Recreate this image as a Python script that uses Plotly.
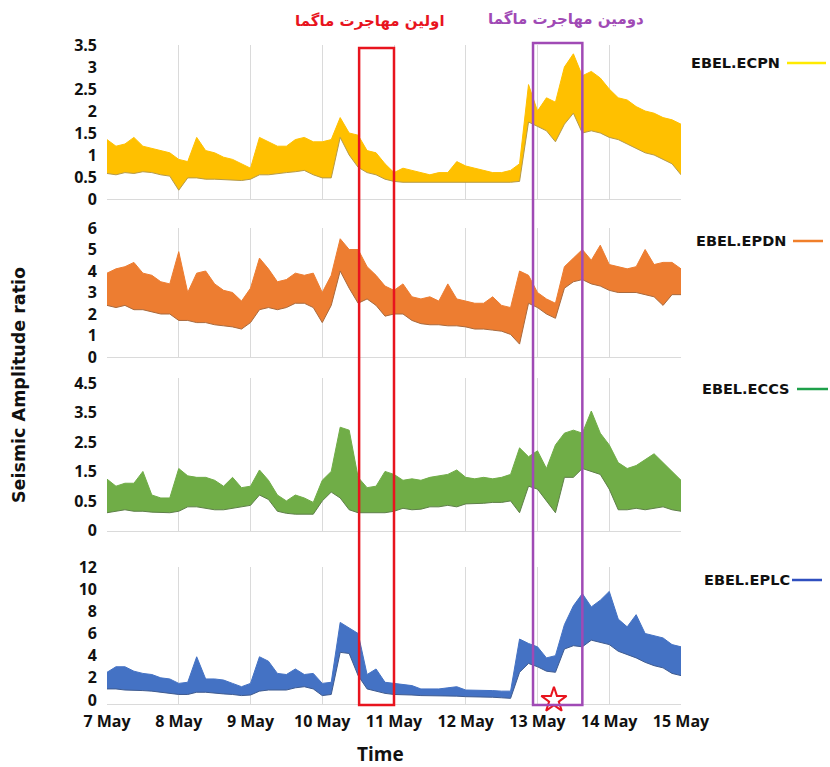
import pandas as pd
import plotly.graph_objects as go
from plotly.subplots import make_subplots

# ---- data (3-hour samples, 7 May 00:00 -> 15 May 00:00) : band lower / upper envelopes
times = pd.date_range("2023-05-07 00:00", "2023-05-15 00:00", freq="3h")

ecpn_upper = [1.35, 1.2, 1.25, 1.4, 1.2, 1.15, 1.1, 1.05, 0.9, 0.85, 1.4, 1.1, 1.05, 0.95, 0.9, 0.8,
              0.7, 1.4, 1.3, 1.2, 1.2, 1.35, 1.4, 1.3, 1.3, 1.35, 1.85, 1.5, 1.45, 1.1, 1.05, 0.8,
              0.6, 0.7, 0.65, 0.6, 0.55, 0.6, 0.6, 0.85, 0.75, 0.7, 0.65, 0.6, 0.6, 0.65, 0.8, 2.6,
              2.0, 2.3, 2.2, 3.0, 3.3, 2.8, 2.9, 2.75, 2.5, 2.3, 2.25, 2.1, 2.0, 1.95, 1.85, 1.8, 1.7]
ecpn_lower = [0.58, 0.55, 0.6, 0.58, 0.62, 0.6, 0.55, 0.52, 0.2, 0.48, 0.48, 0.45, 0.45, 0.44, 0.42, 0.42,
              0.45, 0.55, 0.55, 0.58, 0.6, 0.62, 0.65, 0.55, 0.48, 0.48, 1.4, 1.0, 0.72, 0.6, 0.55, 0.45,
              0.4, 0.38, 0.38, 0.37, 0.38, 0.38, 0.37, 0.38, 0.38, 0.38, 0.37, 0.37, 0.38, 0.38, 0.4, 1.75,
              1.65, 1.55, 1.3, 1.7, 1.95, 1.5, 1.55, 1.5, 1.4, 1.35, 1.25, 1.15, 1.05, 1.0, 0.9, 0.8, 0.55]

epdn_upper = [3.9, 4.1, 4.2, 4.4, 3.9, 3.8, 3.5, 3.4, 4.9, 3.0, 3.9, 4.0, 3.4, 3.1, 3.0, 2.6,
              3.2, 4.6, 4.1, 3.5, 3.6, 3.9, 3.8, 3.9, 3.0, 3.8, 5.5, 5.0, 5.0, 4.2, 3.8, 3.3,
              3.1, 3.4, 2.8, 2.7, 2.8, 2.6, 3.4, 2.7, 2.6, 2.5, 2.5, 2.8, 2.4, 2.3, 4.0, 3.8,
              3.0, 2.7, 2.5, 4.2, 4.6, 5.0, 4.5, 5.2, 4.3, 4.2, 4.1, 4.2, 5.0, 4.3, 4.4, 4.4, 4.1]
epdn_lower = [2.4, 2.3, 2.4, 2.2, 2.2, 2.1, 2.0, 2.0, 1.7, 1.7, 1.6, 1.6, 1.5, 1.45, 1.4, 1.3,
              1.6, 2.2, 2.3, 2.2, 2.3, 2.5, 2.5, 2.3, 1.6, 2.4, 4.0, 3.2, 2.5, 2.7, 2.4, 1.9,
              2.0, 2.0, 1.7, 1.55, 1.5, 1.5, 1.45, 1.45, 1.4, 1.3, 1.3, 1.25, 1.2, 1.05, 0.6, 2.5,
              2.3, 2.0, 1.8, 3.2, 3.5, 3.6, 3.4, 3.3, 3.1, 3.0, 3.0, 3.0, 2.9, 2.8, 2.4, 2.9, 2.9]

eccs_upper = [1.24, 1.0, 1.1, 1.1, 1.5, 0.7, 0.6, 0.6, 1.6, 1.35, 1.3, 1.3, 1.2, 1.0, 1.3, 0.95,
              1.0, 1.55, 1.2, 0.7, 0.5, 0.7, 0.6, 0.45, 1.2, 1.5, 3.0, 2.9, 1.3, 0.95, 1.0, 1.5,
              1.4, 1.2, 1.25, 1.2, 1.3, 1.35, 1.4, 1.55, 1.3, 1.25, 1.3, 1.25, 1.3, 1.4, 2.3, 2.0,
              2.2, 1.6, 2.4, 2.8, 2.9, 2.8, 3.55, 2.8, 2.4, 1.8, 1.6, 1.7, 1.9, 2.1, 1.8, 1.5, 1.2]
eccs_lower = [0.1, 0.15, 0.2, 0.15, 0.15, 0.12, 0.1, 0.1, 0.15, 0.3, 0.3, 0.25, 0.2, 0.2, 0.25, 0.3,
              0.35, 0.7, 0.55, 0.15, 0.08, 0.05, 0.05, 0.05, 0.5, 0.8, 0.6, 0.2, 0.1, 0.1, 0.1, 0.1,
              0.15, 0.25, 0.2, 0.22, 0.3, 0.3, 0.35, 0.3, 0.4, 0.4, 0.42, 0.45, 0.45, 0.5, 0.1, 1.0,
              0.9, 0.5, 0.1, 1.3, 1.3, 1.6, 1.5, 1.4, 0.9, 0.2, 0.2, 0.25, 0.2, 0.25, 0.3, 0.2, 0.15]

eplc_upper = [2.5, 3.0, 3.0, 2.6, 2.4, 2.3, 2.0, 1.9, 1.5, 1.6, 3.9, 1.9, 1.9, 1.8, 1.5, 1.2,
              1.5, 3.9, 3.5, 2.4, 2.3, 2.8, 2.3, 2.4, 1.5, 1.6, 7.0, 6.5, 6.0, 2.3, 2.8, 1.6,
              1.5, 1.4, 1.3, 1.0, 1.0, 1.0, 1.1, 1.2, 0.9, 0.9, 0.85, 0.85, 0.8, 0.8, 5.5, 5.1,
              4.8, 3.8, 4.0, 6.8, 8.5, 9.6, 8.4, 9.0, 9.8, 7.3, 6.6, 7.7, 6.0, 5.8, 5.6, 5.0, 4.8]
eplc_lower = [1.0, 1.0, 0.9, 0.9, 0.85, 0.8, 0.7, 0.6, 0.5, 0.5, 0.7, 0.7, 0.6, 0.55, 0.5, 0.4,
              0.45, 0.8, 0.9, 0.9, 0.9, 1.1, 1.2, 1.0, 0.4, 0.5, 4.3, 4.2, 2.2, 1.0, 0.8, 0.6,
              0.5, 0.5, 0.45, 0.4, 0.4, 0.35, 0.35, 0.35, 0.3, 0.3, 0.25, 0.25, 0.2, 0.15, 2.5, 3.3,
              3.0, 2.6, 2.5, 4.6, 4.9, 4.8, 5.4, 5.2, 5.0, 4.4, 4.1, 3.8, 3.4, 3.1, 2.9, 2.4, 2.2]

stations = ["EBEL.ECPN", "EBEL.EPDN", "EBEL.ECCS", "EBEL.EPLC"]
fill_colors = ["#FFC000", "#ED7D31", "#70AD47", "#4472C4"]
edge_colors = ["#B59A4A", "#A86A3E", "#5E7F49", "#3F5B8F"]
legend_colors = ["#FFEA00", "#F07F2A", "#1EA04A", "#2F4FBF"]
uppers = [ecpn_upper, epdn_upper, eccs_upper, eplc_upper]
lowers = [ecpn_lower, epdn_lower, eccs_lower, eplc_lower]

y_ranges = [[0, 3.5], [0, 6], [-0.52, 4.67], [-0.36, 12]]
y_tickvals = [[0, 0.5, 1, 1.5, 2, 2.5, 3, 3.5], [0, 1, 2, 3, 4, 5, 6],
              [-0.5, 0.5, 1.5, 2.5, 3.5, 4.5], [0, 2, 4, 6, 8, 10, 12]]
y_ticktext = [["0", "0.5", "1", "1.5", "2", "2.5", "3", "3.5"], ["0", "1", "2", "3", "4", "5", "6"],
              ["0", "0.5", "1.5", "2.5", "3.5", "4.5"], ["0", "2", "4", "6", "8", "10", "12"]]

W, H = 830, 767
px_domains = [(45, 199), (228, 357), (378, 531), (567, 704)]
y_domains = [[1 - b / H, 1 - t / H] for (t, b) in px_domains]
x_dom = [107 / W, 681 / W]

windows = [("2023-05-10 12:20", "2023-05-11 00:00", "#E8141E", 48),
           ("2023-05-12 22:30", "2023-05-13 15:00", "#A04AB5", 43)]
window_labels = [("2023-05-10 16:00", "اولین مهاجرت ماگما", "#E8141E", 21),
                 ("2023-05-13 09:30", "دومین مهاجرت ماگما", "#A04AB5", 19)]
event_time = ["2023-05-13 05:30"]
event_value = [0]

fig = make_subplots(rows=4, cols=1, shared_xaxes=True)

for k in range(4):
    r = k + 1
    fig.add_trace(go.Scatter(x=times, y=lowers[k], mode="lines",
                             line=dict(color=edge_colors[k], width=1), showlegend=False,
                             hoverinfo="skip"), row=r, col=1)
    fig.add_trace(go.Scatter(x=times, y=uppers[k], mode="lines", fill="tonexty",
                             fillcolor=fill_colors[k],
                             line=dict(color=fill_colors[k], width=1), showlegend=False,
                             name=stations[k]), row=r, col=1)

fig.add_trace(go.Scatter(x=event_time, y=event_value, mode="markers",
                         marker=dict(symbol="star-open", size=19, color="#E8141E",
                                     line=dict(width=2, color="#E8141E")),
                         showlegend=False, cliponaxis=False), row=4, col=1)

tickfont = dict(family="Open Sans", size=16, color="#111111", weight="bold")
for k in range(4):
    r = k + 1
    fig.update_yaxes(row=r, col=1, range=y_ranges[k], tickvals=y_tickvals[k], ticktext=y_ticktext[k],
                     domain=y_domains[k], automargin=False,
                     showgrid=False, zeroline=False, showline=False, ticks="",
                     tickfont=tickfont, ticklabelstandoff=9)
    fig.update_xaxes(row=r, col=1, domain=x_dom, automargin=False,
                     range=["2023-05-07 00:00", "2023-05-15 00:00"],
                     showgrid=True, gridcolor="#DADADA", gridwidth=1,
                     dtick=86400000, tick0="2023-05-07", tickformat="%-d %b",
                     showline=True, linecolor="#DADADA", linewidth=1, ticks="",
                     zeroline=False, tickfont=tickfont, ticklabelstandoff=3)

fig.update_xaxes(row=4, col=1, showticklabels=True)

annotations = []
shapes = []
for (x0, x1, col, top) in windows:
    shapes.append(dict(type="rect", xref="x4", yref="paper", x0=x0, x1=x1,
                       y0=1 - 705 / H, y1=1 - top / H, line=dict(color=col, width=2.5),
                       fillcolor="rgba(0,0,0,0)", layer="above"))
for (xt, txt, col, ypx) in window_labels:
    annotations.append(dict(xref="x4", yref="paper", x=xt, y=1 - ypx / H, xanchor="center",
                            yanchor="middle", text="<b>" + txt + "</b>", showarrow=False,
                            font=dict(family="DejaVu Sans", size=15, color=col)))

legend_pos = [(689, 63, 787, 826), (694, 241, 793, 823), (700, 389, 797, 828), (702, 580, 792, 822)]
for k, (tx, ty, lx0, lx1) in enumerate(legend_pos):
    annotations.append(dict(xref="paper", yref="paper", x=tx / W, y=1 - ty / H, xanchor="left",
                            yanchor="middle", text="<b>" + stations[k] + "</b>", showarrow=False,
                            font=dict(family="DejaVu Sans", size=14.5, color="#111111")))
    shapes.append(dict(type="line", xref="paper", yref="paper", x0=lx0 / W, x1=lx1 / W,
                       y0=1 - ty / H, y1=1 - ty / H, line=dict(color=legend_colors[k], width=2.5)))

annotations.append(dict(xref="paper", yref="paper", x=19 / W, y=1 - 385 / H, textangle=-90,
                        xanchor="center", yanchor="middle",
                        text="<b>Seismic Amplitude ratio</b>", showarrow=False,
                        font=dict(family="DejaVu Sans", size=17.5, color="#111111")))
annotations.append(dict(xref="paper", yref="paper", x=380 / W, y=1 - 754 / H,
                        xanchor="center", yanchor="middle",
                        text="<b>Time</b>", showarrow=False,
                        font=dict(family="Open Sans", size=19, color="#111111")))

fig.update_layout(width=W, height=H, margin=dict(l=0, r=0, t=0, b=0, autoexpand=False),
                  paper_bgcolor="white", plot_bgcolor="white",
                  annotations=annotations, shapes=shapes, showlegend=False)

fig.write_html("out.html")
